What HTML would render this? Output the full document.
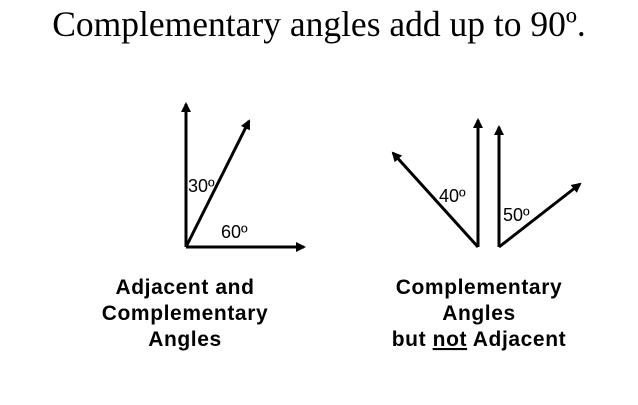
<!DOCTYPE html>
<html><head><style>
body{margin:0;background:#fff;width:638px;height:400px;overflow:hidden}
</style></head><body>
<svg width="638" height="400" xmlns="http://www.w3.org/2000/svg">
<defs><marker id="a" markerWidth="10" markerHeight="10" refX="8" refY="5" orient="auto" markerUnits="userSpaceOnUse"><path d="M0,0 L10,5 L0,10 Z" fill="#000"/></marker></defs>
<text x="319" y="36" text-anchor="middle" font-family="Liberation Serif, serif" font-size="35.5">Complementary angles add up to 90º.</text>
<g stroke="#000" stroke-width="3" marker-end="url(#a)">
<line x1="186" y1="247" x2="186" y2="104"/>
<line x1="186" y1="247" x2="249" y2="121"/>
<line x1="186" y1="247" x2="304" y2="247"/>
<line x1="478" y1="247" x2="478" y2="120"/>
<line x1="478" y1="247" x2="393" y2="153"/>
<line x1="499" y1="247" x2="499" y2="127"/>
<line x1="499" y1="247" x2="580" y2="184"/>
</g>
<g font-family="Liberation Sans, sans-serif" font-size="18">
<text x="188" y="192">30º</text>
<text x="221" y="238">60º</text>
<text x="439" y="202">40º</text>
<text x="503" y="221">50º</text>
</g>
<g font-family="Liberation Sans, sans-serif" font-size="21" font-weight="bold" text-anchor="middle" letter-spacing="0.6">
<text x="185" y="294">Adjacent and</text>
<text x="185" y="320">Complementary</text>
<text x="185" y="346">Angles</text>
<text x="479" y="294">Complementary</text>
<text x="479" y="320">Angles</text>
<text x="479" y="346">but <tspan text-decoration="underline">not</tspan> Adjacent</text>
</g>
</svg>
</body></html>
